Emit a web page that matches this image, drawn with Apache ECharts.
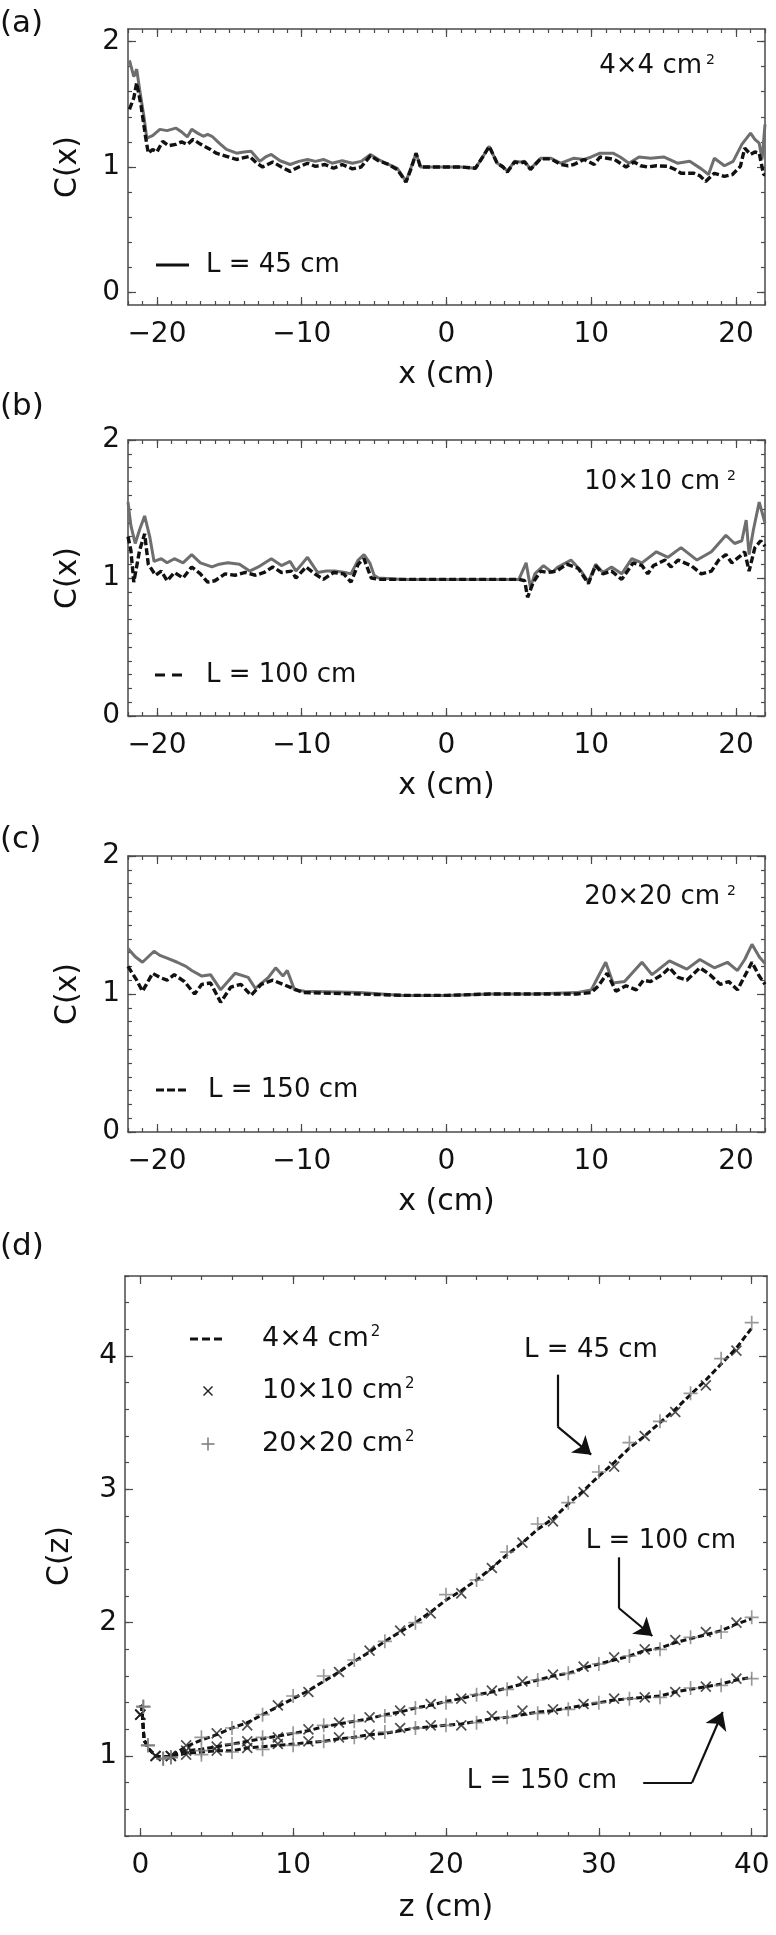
<!DOCTYPE html>
<html>
<head>
<meta charset="utf-8">
<script src="https://cdn.jsdelivr.net/npm/echarts@6/dist/echarts.min.js"></script>
<style>
  html, body { margin: 0; padding: 0; background: #fff; }
  #chart { width: 776px; height: 1935px; }
</style>
</head>
<body>
<div id="chart"></div>
<script>
const FONT = 'DejaVu Sans'
const FRAME = '#4a4a4a'
const GRAY = '#6e6e6e'
const INK = '#111'

// (a) 4x4 cm2, L = 45 cm : [x (cm), C(x)]
const aGray = [[-21.9,1.85],[-21.6,1.72],[-21.4,1.78],[-21.2,1.62],[-20.9,1.4],[-20.7,1.23],[-20.3,1.25],[-19.8,1.3],[-19.3,1.29],[-18.7,1.31],[-18.3,1.28],[-17.9,1.24],[-17.6,1.3],[-17.2,1.27],[-16.8,1.245],[-16.5,1.26],[-16.2,1.245],[-15.7,1.19],[-15.2,1.14],[-14.5,1.11],[-14.0,1.12],[-13.5,1.125],[-12.9,1.045],[-12.5,1.08],[-12.1,1.1],[-11.5,1.05],[-10.8,1.02],[-10.2,1.045],[-9.6,1.06],[-9.05,1.045],[-8.5,1.06],[-7.9,1.03],[-7.2,1.05],[-6.5,1.03],[-5.9,1.045],[-5.25,1.1],[-4.7,1.06],[-4.0,1.02],[-3.4,0.99],[-2.8,0.885],[-2.5,0.98],[-2.1,1.11],[-1.8,1.0],[-1,1.0],[0,1.0],[1,1.0],[2.0,0.99],[2.5,1.08],[2.95,1.165],[3.5,1.03],[3.9,1.005],[4.2,0.965],[4.7,1.045],[5.1,1.04],[5.4,1.045],[5.8,0.985],[6.5,1.07],[7.2,1.07],[7.9,1.03],[8.8,1.07],[9.5,1.06],[10.0,1.08],[10.6,1.11],[11.5,1.11],[12.0,1.08],[12.6,1.03],[13.3,1.08],[14.1,1.07],[15.0,1.08],[15.95,1.03],[16.8,1.045],[17.6,0.985],[18.1,0.94],[18.5,1.07],[19.2,1.01],[19.8,1.045],[20.4,1.18],[21.0,1.27],[21.3,1.22],[21.6,1.19],[21.8,1.06],[22.0,1.34]]
const aBlack = [[-21.9,1.46],[-21.6,1.55],[-21.4,1.67],[-21.1,1.49],[-20.8,1.25],[-20.6,1.11],[-20.3,1.14],[-20.0,1.12],[-19.6,1.205],[-19.2,1.17],[-18.7,1.18],[-18.3,1.2],[-17.9,1.18],[-17.5,1.22],[-17.1,1.19],[-16.8,1.17],[-16.3,1.14],[-15.9,1.11],[-15.2,1.085],[-14.5,1.06],[-13.6,1.085],[-13.1,1.03],[-12.7,1.0],[-12.0,1.04],[-11.4,1.0],[-10.8,0.965],[-10.7,0.95],[-10.2,1.0],[-9.6,1.03],[-9.05,1.005],[-8.4,1.02],[-7.8,0.99],[-7.2,1.02],[-6.5,0.985],[-5.9,1.0],[-5.25,1.09],[-4.7,1.05],[-4.0,1.02],[-3.4,0.98],[-2.8,0.88],[-2.5,0.97],[-2.1,1.11],[-1.8,1.0],[-1,1.0],[0,1.0],[1,1.0],[2.0,0.99],[2.5,1.08],[2.95,1.165],[3.5,1.03],[3.9,1.0],[4.2,0.96],[4.7,1.04],[5.1,1.03],[5.4,1.04],[5.8,0.98],[6.5,1.065],[7.2,1.065],[7.9,1.02],[8.4,1.01],[8.8,1.02],[9.5,1.06],[10.2,1.02],[10.6,1.08],[11.1,1.07],[11.6,1.06],[12.4,1.0],[12.96,1.04],[13.4,1.01],[13.9,1.0],[14.5,1.01],[15.3,1.005],[15.8,0.98],[16.2,0.95],[17.1,0.95],[17.5,0.93],[17.9,0.885],[18.5,0.95],[19.2,0.925],[19.75,0.94],[20.3,1.005],[20.6,1.15],[21.0,1.1],[21.3,1.12],[21.6,1.11],[21.9,0.94],[22.0,0.94]]

// (b) 10x10 cm2, L = 100 cm
const bGray = [[-22,1.55],[-21.8,1.38],[-21.5,1.25],[-21.2,1.35],[-20.85,1.45],[-20.5,1.3],[-20.2,1.12],[-19.7,1.14],[-19.3,1.11],[-18.8,1.14],[-18.2,1.11],[-17.6,1.17],[-17.0,1.11],[-16.2,1.08],[-15.7,1.1],[-15.1,1.11],[-14.3,1.1],[-13.6,1.05],[-13.0,1.08],[-12.1,1.14],[-11.4,1.09],[-10.8,1.12],[-10.4,1.05],[-9.6,1.15],[-8.9,1.04],[-8.3,1.05],[-7.7,1.05],[-7.0,1.04],[-6.6,1.03],[-6.1,1.13],[-5.7,1.17],[-5.3,1.11],[-5.0,1.02],[-4.7,1.0],[-3,0.99],[0,0.99],[3,0.99],[5.0,0.99],[5.5,1.11],[5.8,0.93],[6.1,1.03],[6.7,1.09],[7.3,1.04],[7.7,1.08],[8.6,1.13],[9.3,1.05],[9.8,0.97],[10.3,1.1],[10.8,1.04],[11.4,1.08],[12.1,1.03],[12.8,1.14],[13.5,1.11],[14.5,1.19],[15.3,1.15],[16.2,1.22],[17.3,1.13],[18.3,1.19],[19.3,1.31],[19.9,1.25],[20.4,1.27],[20.7,1.42],[20.9,1.17],[21.2,1.35],[21.6,1.55],[22,1.4]]
const bBlack = [[-22,1.3],[-21.8,1.2],[-21.6,0.97],[-21.2,1.2],[-20.85,1.32],[-20.6,1.1],[-20.1,1.02],[-19.7,1.05],[-19.3,0.98],[-18.8,1.04],[-18.2,1.0],[-17.6,1.08],[-17.0,1.03],[-16.5,0.97],[-16.0,0.98],[-15.3,1.03],[-14.6,1.02],[-13.9,1.04],[-13.2,1.02],[-12.6,1.04],[-12.0,1.08],[-11.4,1.04],[-10.7,1.05],[-10.4,1.0],[-9.7,1.08],[-9.1,1.03],[-8.5,0.99],[-7.8,1.04],[-7.1,1.03],[-6.6,0.97],[-6.1,1.1],[-5.7,1.14],[-5.2,1.0],[-4.7,0.99],[0,0.99],[5.0,0.99],[5.4,0.98],[5.6,0.86],[6.0,0.97],[6.5,1.05],[7.0,1.04],[7.6,1.05],[8.3,1.1],[9.1,1.07],[9.8,0.96],[10.3,1.09],[10.8,1.03],[11.4,1.05],[12.1,0.99],[12.9,1.11],[13.5,1.09],[13.9,1.03],[14.3,1.09],[15.1,1.13],[15.5,1.08],[16.0,1.13],[16.9,1.09],[17.6,1.03],[18.3,1.05],[18.8,1.13],[19.3,1.17],[19.7,1.11],[20.3,1.16],[20.6,1.19],[20.9,1.05],[21.3,1.22],[21.7,1.27],[22,1.23]]

// (c) 20x20 cm2, L = 150 cm
const cGray = [[-22,1.33],[-21.5,1.27],[-21.0,1.23],[-20.6,1.27],[-20.2,1.31],[-19.8,1.28],[-19.3,1.26],[-18.6,1.23],[-18.0,1.2],[-17.6,1.17],[-16.9,1.13],[-16.3,1.14],[-15.6,1.03],[-14.6,1.15],[-13.7,1.12],[-13.2,1.04],[-12.3,1.12],[-11.8,1.19],[-11.3,1.13],[-11.0,1.17],[-10.5,1.03],[-9.8,1.02],[-6,1.01],[-3,0.99],[0,0.99],[3,1.0],[6,1.0],[9,1.01],[10.0,1.03],[10.5,1.13],[11.0,1.23],[11.5,1.08],[12.3,1.09],[13.5,1.23],[14.2,1.14],[15.4,1.24],[16.6,1.18],[17.5,1.25],[18.5,1.19],[19.4,1.23],[20.1,1.17],[20.6,1.25],[21.1,1.36],[21.6,1.27],[22,1.22]]
const cBlack = [[-22,1.2],[-21.4,1.1],[-21.0,1.02],[-20.3,1.15],[-19.8,1.12],[-19.3,1.1],[-18.8,1.14],[-18.1,1.09],[-17.4,1.0],[-16.9,1.07],[-16.3,1.08],[-15.6,0.94],[-14.9,1.05],[-14.2,1.07],[-13.5,0.99],[-12.8,1.07],[-12.0,1.1],[-11.3,1.07],[-10.6,1.04],[-9.9,1.01],[-6,1.0],[-3,0.99],[0,0.99],[3,1.0],[6,1.0],[9,1.0],[10.0,1.01],[10.5,1.06],[11.1,1.15],[11.7,1.02],[12.4,1.06],[13.1,1.03],[13.6,1.1],[14.1,1.09],[14.9,1.14],[15.4,1.19],[16.0,1.12],[16.6,1.1],[17.5,1.19],[18.2,1.14],[18.9,1.07],[19.5,1.09],[20.1,1.03],[20.6,1.13],[21.1,1.23],[21.6,1.13],[22,1.07]]

// (d) depth curves
const zLine = [0,0.1,0.25,0.5,1,1.5,2,3,4,5,6,7,8,9,10,11,12,13,14,15,16,17,18,19,20,21,22,23,24,25,26,27,28,29,30,31,32,33,34,35,36,37,38,39,40]
const line45 = [1.38,1.36,1.12,1.06,1.0,0.99,1.0,1.07,1.12,1.16,1.21,1.25,1.31,1.37,1.43,1.49,1.56,1.63,1.71,1.78,1.86,1.93,2.0,2.08,2.17,2.24,2.32,2.41,2.51,2.6,2.7,2.78,2.89,2.99,3.1,3.2,3.31,3.4,3.5,3.6,3.71,3.82,3.94,4.06,4.21]
const line100 = [1.38,1.36,1.12,1.06,1.0,0.99,1.0,1.04,1.05,1.07,1.09,1.11,1.13,1.15,1.17,1.19,1.22,1.24,1.26,1.28,1.31,1.33,1.36,1.38,1.41,1.43,1.46,1.48,1.51,1.54,1.57,1.6,1.62,1.66,1.69,1.72,1.75,1.79,1.81,1.85,1.88,1.91,1.94,1.99,2.03]
const line150 = [1.38,1.36,1.12,1.06,1.0,0.99,1.0,1.02,1.03,1.04,1.04,1.06,1.07,1.08,1.09,1.1,1.11,1.13,1.14,1.16,1.17,1.19,1.21,1.22,1.23,1.24,1.26,1.28,1.29,1.31,1.33,1.34,1.36,1.38,1.4,1.42,1.43,1.44,1.45,1.48,1.5,1.52,1.54,1.57,1.59]

const zCross = [0,1,2,3,5,7,9,11,13,15,17,19,21,23,25,27,29,31,33,35,37,39]
const cross45 = [1.31,1.0,1.0,1.08,1.17,1.23,1.38,1.48,1.63,1.79,1.94,2.07,2.22,2.41,2.6,2.76,2.98,3.17,3.4,3.58,3.78,4.04]
const cross100 = [1.31,1.0,1.0,1.04,1.07,1.11,1.14,1.2,1.25,1.29,1.34,1.39,1.43,1.49,1.56,1.61,1.67,1.74,1.8,1.87,1.93,2.0]
const cross150 = [1.31,1.0,1.0,1.01,1.04,1.06,1.09,1.11,1.14,1.16,1.21,1.23,1.23,1.3,1.34,1.35,1.39,1.43,1.44,1.48,1.52,1.58]

const zPlus = [0.2,0.5,1.5,2,4,6,8,10,12,14,16,18,20,22,24,26,28,30,32,34,36,38,40]
const plus45 = [1.37,1.08,0.98,0.99,1.14,1.21,1.31,1.45,1.6,1.72,1.86,2.0,2.21,2.32,2.53,2.74,2.9,3.13,3.35,3.51,3.72,3.98,4.25]
const plus100 = [1.37,1.08,0.98,0.99,1.04,1.09,1.14,1.17,1.23,1.26,1.3,1.36,1.4,1.46,1.5,1.57,1.62,1.69,1.75,1.8,1.89,1.93,2.04]
const plus150 = [1.37,1.08,0.98,0.99,1.01,1.03,1.05,1.08,1.11,1.14,1.18,1.21,1.23,1.25,1.29,1.32,1.35,1.4,1.43,1.44,1.51,1.53,1.58]

// annotation arrows in (d), data units: shaft start, bend, tip
const arrow45 = [[27.3,3.86],[27.3,3.47],[29.5,3.26]]
const arrow100 = [[31.3,2.49],[31.3,2.11],[33.5,1.9]]
const arrow150 = [[32.9,0.8],[36.1,0.8],[38.1,1.33]]

function steps(from, to, step) {
  const out = []
  for (let v = from; v <= to + 1e-9; v += step) out.push(Math.round(v * 100) / 100)
  return out
}
const pairs = (xs, ys) => xs.map((x, i) => [x, ys[i]])
const minus = v => (v < 0 ? '\u2212' + (-v) : String(v))

const measureCtx = document.createElement('canvas').getContext('2d')
function textWidth(str, size) {
  measureCtx.font = size + 'px "' + FONT + '"'
  return measureCtx.measureText(str).width
}

const xAxes = []
const yAxes = []

function addAxes(grid, o) {
  const xi = xAxes.length
  const yi = yAxes.length
  const line = { show: true, onZero: false, lineStyle: { color: FRAME, width: 1.5 } }
  const noLine = { show: false, onZero: false }
  const tick = { color: FRAME, width: 1.2 }
  const label = { fontFamily: FONT, fontSize: 28, color: INK }
  const name = { fontFamily: FONT, fontSize: 30, color: INK }
  ;['bottom', 'top'].forEach(pos => {
    xAxes.push({
      type: 'value', gridIndex: grid, position: pos, min: o.xMin, max: o.xMax,
      axisLine: line,
      axisTick: { show: true, inside: true, length: 8, customValues: o.xMajor, lineStyle: tick },
      axisLabel: Object.assign({ show: pos === 'bottom', customValues: o.xMajor, margin: 16, formatter: minus }, label),
      splitLine: { show: false },
      name: pos === 'bottom' ? o.xName : '',
      nameLocation: 'middle', nameGap: o.xGap, nameTextStyle: name
    })
    xAxes.push({
      type: 'value', gridIndex: grid, position: pos, min: o.xMin, max: o.xMax,
      axisLine: noLine,
      axisTick: { show: true, inside: true, length: 4, customValues: o.xMinor, lineStyle: tick },
      axisLabel: { show: false }, splitLine: { show: false }
    })
  })
  ;['left', 'right'].forEach(pos => {
    yAxes.push({
      type: 'value', gridIndex: grid, position: pos, min: o.yMin, max: o.yMax,
      axisLine: line,
      axisTick: { show: true, inside: true, length: 8, customValues: o.yMajor, lineStyle: tick },
      axisLabel: Object.assign({ show: pos === 'left', customValues: o.yMajor, margin: 8 }, label),
      splitLine: { show: false },
      name: pos === 'left' ? o.yName : '',
      nameLocation: 'middle', nameGap: o.yGap, nameRotate: 90, nameTextStyle: name
    })
    yAxes.push({
      type: 'value', gridIndex: grid, position: pos, min: o.yMin, max: o.yMax,
      axisLine: noLine,
      axisTick: { show: true, inside: true, length: 4, customValues: o.yMinor, lineStyle: tick },
      axisLabel: { show: false }, splitLine: { show: false }
    })
  })
  return { x: xi, y: yi }
}

const grids = [
  { left: 128, top: 29, width: 637, height: 276 },
  { left: 128, top: 440, width: 637, height: 276 },
  { left: 128, top: 856, width: 637, height: 276 },
  { left: 125, top: 1276, width: 642, height: 560 }
]

const xMajorPanel = [-20, -10, 0, 10, 20]
const xMinorPanel = steps(-22, 22, 1)
const ax = [
  addAxes(0, { xMin: -22, xMax: 22, xMajor: xMajorPanel, xMinor: xMinorPanel, xName: 'x (cm)', xGap: 55,
    yMin: -0.1, yMax: 2.1, yMajor: [0, 1, 2], yMinor: steps(0, 2, 0.2), yName: 'C(x)', yGap: 45 }),
  addAxes(1, { xMin: -22, xMax: 22, xMajor: xMajorPanel, xMinor: xMinorPanel, xName: 'x (cm)', xGap: 55,
    yMin: 0, yMax: 2, yMajor: [0, 1, 2], yMinor: steps(0, 2, 0.1), yName: 'C(x)', yGap: 45 }),
  addAxes(2, { xMin: -22, xMax: 22, xMajor: xMajorPanel, xMinor: xMinorPanel, xName: 'x (cm)', xGap: 55,
    yMin: 0, yMax: 2, yMajor: [0, 1, 2], yMinor: steps(0, 2, 0.1), yName: 'C(x)', yGap: 45 }),
  addAxes(3, { xMin: -1, xMax: 41, xMajor: [0, 10, 20, 30, 40], xMinor: steps(0, 40, 2), xName: 'z (cm)', xGap: 57,
    yMin: 0.4, yMax: 4.6, yMajor: [1, 2, 3, 4], yMinor: steps(0.4, 4.6, 0.2), yName: 'C(z)', yGap: 50 })
]

const series = []
function profile(p, gray, black) {
  series.push({ type: 'line', xAxisIndex: ax[p].x, yAxisIndex: ax[p].y, data: gray, symbol: 'none',
    lineStyle: { color: GRAY, width: 3 }, z: 2 })
  series.push({ type: 'line', xAxisIndex: ax[p].x, yAxisIndex: ax[p].y, data: black, symbol: 'none',
    lineStyle: { color: INK, width: 3.4, type: [7, 3] }, z: 3 })
}
profile(0, aGray, aBlack)
profile(1, bGray, bBlack)
profile(2, cGray, cBlack)

const PLUS = 'path://M4.4,0H5.6V4.4H10V5.6H5.6V10H4.4V5.6H0V4.4H4.4Z'
const d = ax[3]
;[[line45, cross45, plus45], [line100, cross100, plus100], [line150, cross150, plus150]].forEach(([ln, cr, pl]) => {
  series.push({ type: 'line', xAxisIndex: d.x, yAxisIndex: d.y, data: pairs(zLine, ln), symbol: 'none',
    lineStyle: { color: INK, width: 3, type: [6, 3] }, z: 2 })
  series.push({ type: 'scatter', xAxisIndex: d.x, yAxisIndex: d.y, data: pairs(zCross, cr), symbol: PLUS,
    symbolRotate: 45, symbolSize: 14, itemStyle: { color: '#222' }, z: 3 })
  series.push({ type: 'scatter', xAxisIndex: d.x, yAxisIndex: d.y, data: pairs(zPlus, pl), symbol: PLUS,
    symbolSize: 14, itemStyle: { color: '#808080' }, z: 3 })
})

const arrows = [arrow45, arrow100, arrow150]
series.push({ type: 'lines', coordinateSystem: 'cartesian2d', xAxisIndex: d.x, yAxisIndex: d.y, symbol: 'none',
  lineStyle: { color: INK, width: 2.2, opacity: 1 }, data: arrows.map(a => ({ coords: [a[0], a[1]] })), z: 4 })
series.push({ type: 'lines', coordinateSystem: 'cartesian2d', xAxisIndex: d.x, yAxisIndex: d.y, symbol: ['none', 'arrow'],
  symbolSize: 17, lineStyle: { color: INK, width: 2.2, opacity: 1 }, itemStyle: { color: INK },
  data: arrows.map(a => ({ coords: [a[1], a[2]] })), z: 4 })

function text(x, y, str, size, align, color) {
  return { type: 'text', x, y, z: 10, style: { text: str, font: size + 'px "' + FONT + '"', fill: color || INK,
    textAlign: align || 'left', align: align || 'left', textVerticalAlign: 'middle', verticalAlign: 'middle' } }
}
function seg(x1, y1, x2, y2, color, width, dash) {
  return { type: 'line', z: 10, shape: { x1, y1, x2, y2 }, style: { stroke: color, lineWidth: width, lineDash: dash || null } }
}
// main text starting at x, with a superscript 2 right after it
function withSup(x, y, str, size, gap) {
  const w = textWidth(str, size)
  return [text(x, y, str, size), text(x + w + gap, y - size * 0.25, '2', Math.round(size * 0.56))]
}

const graphic = [
  text(0, 24, '(a)', 31), text(0, 407, '(b)', 31), text(0, 840, '(c)', 31), text(0, 1247, '(d)', 31),
  // field sizes
  text(702, 66, '4×4 cm', 26, 'right'), text(706, 60, '2', 14),
  text(720, 482, '10×10 cm', 26, 'right'), text(727, 476, '2', 14),
  text(720, 897, '20×20 cm', 26, 'right'), text(727, 891, '2', 14),
  // panel legends
  seg(156, 265, 189, 265, INK, 3.2), text(206, 265, 'L = 45 cm', 26),
  seg(155, 675, 189, 675, INK, 3.2, [10, 7]), text(206, 675, 'L = 100 cm', 26),
  seg(156, 1090, 189, 1090, INK, 3.2, [8, 3]), text(208, 1090, 'L = 150 cm', 26),
  // (d) legend
  seg(190, 1339, 226, 1339, INK, 3, [8, 4]),
  ...withSup(262, 1339, '4×4 cm', 27, 2),
  seg(203.5, 1386.5, 212.5, 1395.5, '#222', 1.4), seg(212.5, 1386.5, 203.5, 1395.5, '#222', 1.4),
  ...withSup(262, 1391, '10×10 cm', 27, 2),
  seg(201.5, 1444, 214.5, 1444, '#808080', 1.6), seg(208, 1437.5, 208, 1450.5, '#808080', 1.6),
  ...withSup(262, 1444, '20×20 cm', 27, 2),
  // (d) annotations
  text(591, 1350, 'L = 45 cm', 26, 'center'),
  text(661, 1541, 'L = 100 cm', 26, 'center'),
  text(542, 1781, 'L = 150 cm', 26, 'center')
]

const chart = echarts.init(document.getElementById('chart'), null, { renderer: 'canvas' })
chart.setOption({
  animation: false,
  backgroundColor: '#fff',
  grid: grids,
  xAxis: xAxes,
  yAxis: yAxes,
  series,
  graphic
})
</script>
</body>
</html>
